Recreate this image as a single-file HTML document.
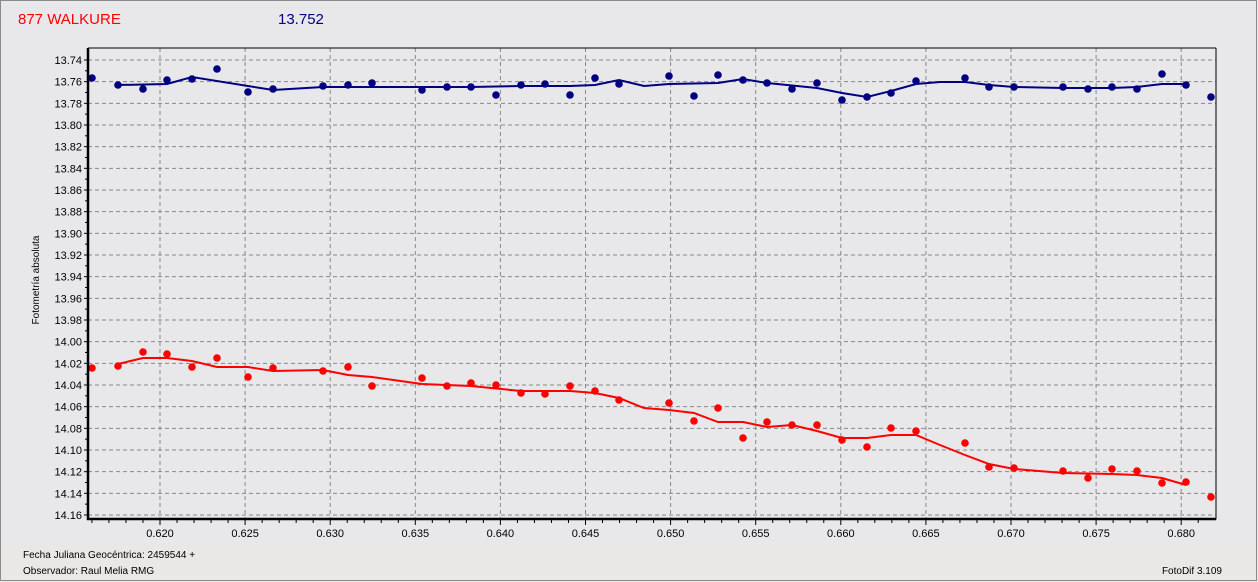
<!DOCTYPE html>
<html><head><style>
html,body{margin:0;padding:0;background:#e8e8ea;}
svg{display:block;font-family:"Liberation Sans",sans-serif;}
</style></head><body>
<svg width="1258" height="582" xmlns="http://www.w3.org/2000/svg">
<rect x="0" y="0" width="1258" height="582" fill="#e8e8ea"/>
<rect x="0" y="540" width="1258" height="42" fill="#e9e8e6"/>
<rect x="0.5" y="0.5" width="1256" height="580" fill="none" stroke="#8a8a8a"/>
<text x="18" y="24" font-size="15" fill="#ff0000">877 WALKURE</text>
<text x="278" y="24" font-size="15" fill="#000080">13.752</text>
<g id="grid" stroke="#888" stroke-dasharray="4,3" stroke-width="1">
</g>
<g id="yl" font-size="11" fill="#000" text-anchor="end"></g>
<g id="xl" font-size="11" fill="#000" text-anchor="middle"></g>
<text x="39" y="280" font-size="10" transform="rotate(-90 39 280)" text-anchor="middle">Fotometría absoluta</text>
<text x="23" y="558" font-size="10">Fecha Juliana Geocéntrica: 2459544 +</text>
<text x="23" y="574" font-size="10">Observador: Raul Melia RMG</text>
<text x="1222" y="574" font-size="10" text-anchor="end">FotoDif 3.109</text>
<g id="series"></g>
<path d="M88,48 V519 H1216 V48" fill="none" stroke="#000" stroke-width="1"/>
<line x1="88" y1="48" x2="88" y2="520" stroke="#000" stroke-width="2.5"/>
<line x1="87" y1="519" x2="1216" y2="519" stroke="#000" stroke-width="2.5"/>
<line x1="88" y1="48" x2="1216" y2="48" stroke="#000" stroke-width="1"/>
<script>
var ns="http://www.w3.org/2000/svg";
function el(t,a,p){var e=document.createElementNS(ns,t);for(var k in a)e.setAttribute(k,a[k]);document.getElementById(p).appendChild(e);return e;}
for(var i=0;i<=21;i++){var y=60+i*21.667;
 el("line",{x1:88,x2:1216,y1:y,y2:y},"grid");
 var t=el("text",{x:82,y:y+4},"yl");t.textContent=(13.74+i*0.02).toFixed(2);
 el("line",{x1:84,x2:88,y1:y,y2:y,stroke:"#000","stroke-dasharray":"none"},"grid");
 if(i<21) el("line",{x1:85,x2:88,y1:y+10.8,y2:y+10.8,stroke:"#000","stroke-dasharray":"none"},"grid");
}
for(var v=616;v<=681;v++){var x=160+(v-620)*17.02;
 if(v%5==0){el("line",{x1:x,x2:x,y1:48,y2:519},"grid");
  el("line",{x1:x,x2:x,y1:519,y2:525,stroke:"#000","stroke-dasharray":"none"},"grid");
  var t=el("text",{x:x,y:537},"xl");t.textContent=(v/1000).toFixed(3);}
 else el("line",{x1:x,x2:x,y1:519,y2:523,stroke:"#000","stroke-dasharray":"none"},"grid");
}
var bp=[[92,78],[118,85],[143,89],[167,80],[192,79],[217,69],[248,92],[273,89],[323,86],[348,85],[372,83],[422,90],[447,87],[471,87],[496,95],[521,85],[545,84],[570,95],[595,78],[619,84],[669,76],[694,96],[718,75],[743,80],[767,83],[792,89],[817,83],[842,100],[867,97],[891,93],[916,81],[965,78],[989,87],[1014,87],[1063,87],[1088,89],[1112,87],[1137,89],[1162,74],[1186,85],[1211,97]];
var bl="118,85 167,84 192,77 273,90 323,87 422,87 471,87 521,86 570,86 595,85 619,80 644,86 669,84 718,83 743,79 767,83 817,88 842,93 867,97 891,91 916,84 940,82 965,82 989,85 1014,87 1063,88 1112,88 1137,87 1162,84 1186,84";
var rp=[[92,368],[118,366],[143,352],[167,354],[192,367],[217,358],[248,377],[273,368],[323,371],[348,367],[372,386],[422,378],[447,386],[471,383],[496,385],[521,393],[545,394],[570,386],[595,391],[619,400],[669,403],[694,421],[718,408],[743,438],[767,422],[792,425],[817,425],[842,440],[867,447],[891,428],[916,431],[965,443],[989,467],[1014,468],[1063,471],[1088,478],[1112,469],[1137,471],[1162,483],[1186,482],[1211,497]];
var rl="118,364 143,358 167,358 192,361 217,367 248,367 273,371 323,370 348,375 372,377 422,384 471,386 521,391 570,391 595,393 619,398 644,408 669,410 694,413 718,422 743,422 767,427 792,425 817,431 842,438 867,438 891,435 916,435 940,445 965,455 989,464 1014,469 1063,473 1112,474 1137,475 1162,478 1186,485";
el("polyline",{points:bl,fill:"none",stroke:"#000080","stroke-width":2},"series");
el("polyline",{points:rl,fill:"none",stroke:"#ff0000","stroke-width":2},"series");
bp.forEach(function(p){el("circle",{cx:p[0],cy:p[1],r:3.8,fill:"#000080"},"series");});
rp.forEach(function(p){el("circle",{cx:p[0],cy:p[1],r:3.8,fill:"#ff0000"},"series");});
</script>
</svg>
</body></html>
